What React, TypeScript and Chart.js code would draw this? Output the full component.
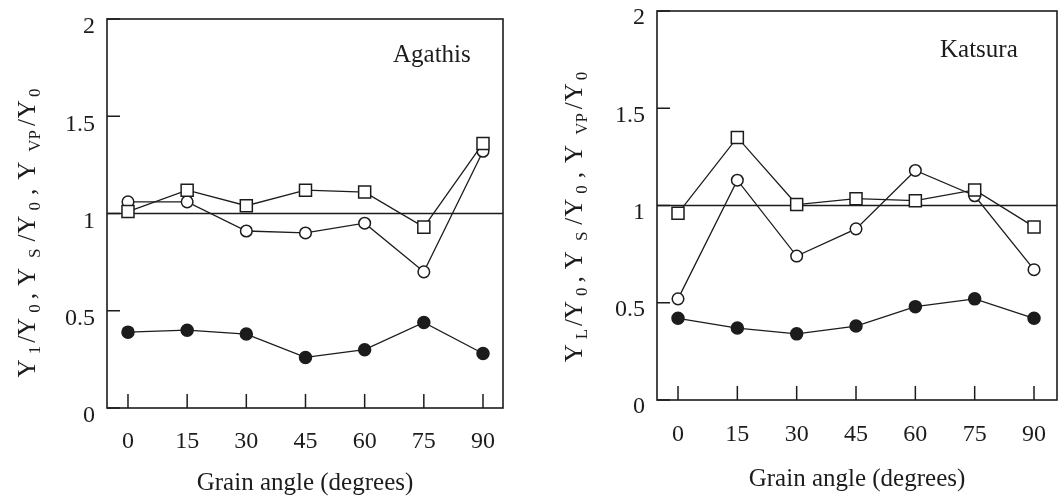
import React, { useEffect, useRef } from "react";
import { Chart, registerables } from "chart.js";

Chart.register(...registerables);

// ---------- data ----------
const GRAIN_ANGLES = [0, 15, 30, 45, 60, 75, 90];
const Y_TICKS = [0, 0.5, 1, 1.5, 2];
const REFERENCE_VALUE = 1;

const AGATHIS_VP = [1.01, 1.12, 1.04, 1.12, 1.11, 0.93, 1.36];
const AGATHIS_S = [1.06, 1.06, 0.91, 0.9, 0.95, 0.7, 1.32];
const AGATHIS_L = [0.39, 0.4, 0.38, 0.26, 0.3, 0.44, 0.28];

const KATSURA_VP = [0.96, 1.35, 1.005, 1.035, 1.025, 1.08, 0.89];
const KATSURA_S = [0.52, 1.13, 0.74, 0.88, 1.18, 1.05, 0.67];
const KATSURA_L = [0.42, 0.37, 0.34, 0.38, 0.48, 0.52, 0.42];

const X_TITLE = "Grain angle (degrees)";

// ---------- style ----------
const SERIF = '"Liberation Serif", "DejaVu Serif", "Times New Roman", serif';
const INK = "#1c1c1c";

type Seg = { t: string; sub: boolean; gap: number };
const yTitleSegs = (first: string): Seg[] => [
  { t: "Y", sub: false, gap: 0 },
  { t: first, sub: true, gap: 5 },
  { t: "/", sub: false, gap: 3 },
  { t: "Y", sub: false, gap: 0 },
  { t: "0", sub: true, gap: 5 },
  { t: ",", sub: false, gap: 5 },
  { t: "Y", sub: false, gap: 7 },
  { t: "S", sub: true, gap: 10 },
  { t: "/", sub: false, gap: 7 },
  { t: "Y", sub: false, gap: 1 },
  { t: "0", sub: true, gap: 5 },
  { t: ",", sub: false, gap: 7 },
  { t: "Y", sub: false, gap: 9 },
  { t: "VP", sub: true, gap: 10 },
  { t: "/", sub: false, gap: 4 },
  { t: "Y", sub: false, gap: 1 },
  { t: "0", sub: true, gap: 3 },
];

type Spec = {
  name: string;
  vp: number[];
  s: number[];
  l: number[];
  titleSegs: Seg[];
  left: number;
  width: number;
  pad: { left: number; right: number; top: number; bottom: number };
  yAxisWidth: number;
  xAxisHeight: number;
  xMin: number;
  xMax: number;
  xTickPad: number;
  xTitlePadBottom: number;
  yLabelOffset: number;
  nameX: number;
  nameY: number;
  yTitleX: number;
  yTitleY: number;
};

const AGATHIS: Spec = {
  name: "Agathis",
  vp: AGATHIS_VP,
  s: AGATHIS_S,
  l: AGATHIS_L,
  titleSegs: yTitleSegs("1"),
  left: 0,
  width: 530,
  pad: { left: 0, right: 27, top: 19, bottom: 0 },
  yAxisWidth: 107,
  xAxisHeight: 90,
  xMin: -5.32,
  xMax: 95.07,
  xTickPad: 19,
  xTitlePadBottom: 0,
  yLabelOffset: 8,
  nameX: 393,
  nameY: 55,
  yTitleX: 28,
  yTitleY: 233,
};

// canvas extends past the page edge so that the plot box reaches x = 1057
const KATSURA: Spec = {
  name: "Katsura",
  vp: KATSURA_VP,
  s: KATSURA_S,
  l: KATSURA_L,
  titleSegs: yTitleSegs("L"),
  left: 530,
  width: 537,
  pad: { left: 0, right: 10, top: 11, bottom: 0 },
  yAxisWidth: 127,
  xAxisHeight: 98,
  xMin: -5.31,
  xMax: 95.81,
  xTickPad: 20,
  xTitlePadBottom: 4,
  yLabelOffset: 7,
  nameX: 940,
  nameY: 50,
  yTitleX: 45,
  yTitleY: 217,
};

const decorPlugin = {
  id: "panelDecor",
  beforeDatasetsDraw(chart: any) {
    const { ctx, chartArea: a, scales } = chart;
    const xs = scales.x;
    const ys = scales.y;
    ctx.save();
    ctx.strokeStyle = INK;
    ctx.lineWidth = 1.6;
    ctx.strokeRect(a.left, a.top, a.right - a.left, a.bottom - a.top);
    const ry = ys.getPixelForValue(REFERENCE_VALUE);
    ctx.lineWidth = 1.4;
    ctx.beginPath();
    ctx.moveTo(a.left, ry);
    ctx.lineTo(a.right, ry);
    ctx.stroke();
    ctx.lineWidth = 1.5;
    ctx.beginPath();
    for (const t of ys.ticks) {
      const py = ys.getPixelForValue(t.value);
      ctx.moveTo(a.left, py);
      ctx.lineTo(a.left + 13, py);
    }
    for (const t of xs.ticks) {
      const px = xs.getPixelForValue(t.value);
      ctx.moveTo(px, a.bottom);
      ctx.lineTo(px, a.bottom - 14);
    }
    ctx.stroke();
    ctx.restore();
  },
  afterDraw(chart: any, _args: any, opts: any) {
    const { ctx } = chart;
    ctx.save();
    ctx.fillStyle = INK;
    ctx.font = `25px ${SERIF}`;
    ctx.textAlign = "left";
    ctx.textBaseline = "middle";
    ctx.fillText(opts.name, opts.nameX, opts.nameY);

    // rotated y-axis title with subscripts
    const segs: Seg[] = opts.titleSegs;
    const mainFont = `25px ${SERIF}`;
    const subFont = `17px ${SERIF}`;
    let total = 0;
    for (const s of segs) {
      ctx.font = s.sub ? subFont : mainFont;
      total += s.gap + ctx.measureText(s.t).width;
    }
    ctx.translate(opts.yTitleX, opts.yTitleY);
    ctx.rotate(-Math.PI / 2);
    ctx.textBaseline = "alphabetic";
    let x = -total / 2;
    for (const s of segs) {
      ctx.font = s.sub ? subFont : mainFont;
      x += s.gap;
      ctx.fillText(s.t, x, s.sub ? 12 : 7);
      x += ctx.measureText(s.t).width;
    }
    ctx.restore();
  },
};

const toPoints = (vals: number[]) => GRAIN_ANGLES.map((a, i) => ({ x: a, y: vals[i] }));

function Panel({ spec }: { spec: Spec }) {
  const ref = useRef<HTMLCanvasElement | null>(null);
  useEffect(() => {
    if (!ref.current) return;
    const lineBase = {
      borderColor: INK,
      borderWidth: 1.3,
      pointBorderColor: INK,
      pointBorderWidth: 1.5,
      fill: false,
      tension: 0,
    };
    const chart = new Chart(ref.current, {
      type: "line",
      data: {
        datasets: [
          {
            ...lineBase,
            label: "VP",
            data: toPoints(spec.vp),
            pointStyle: "rect",
            pointRadius: 8.5,
            pointBackgroundColor: "#ffffff",
          },
          {
            ...lineBase,
            label: "S",
            data: toPoints(spec.s),
            pointStyle: "circle",
            pointRadius: 5.8,
            pointBackgroundColor: "#ffffff",
          },
          {
            ...lineBase,
            label: "L",
            data: toPoints(spec.l),
            pointStyle: "circle",
            pointRadius: 6,
            pointBackgroundColor: INK,
          },
        ],
      } as any,
      options: {
        responsive: false,
        animation: false,
        events: [],
        devicePixelRatio: 1,
        layout: { padding: spec.pad },
        plugins: {
          legend: { display: false },
          tooltip: { enabled: false },
          panelDecor: {
            name: spec.name,
            nameX: spec.nameX - spec.left,
            nameY: spec.nameY,
            titleSegs: spec.titleSegs,
            yTitleX: spec.yTitleX,
            yTitleY: spec.yTitleY,
          },
        } as any,
        scales: {
          x: {
            type: "linear",
            min: spec.xMin,
            max: spec.xMax,
            afterBuildTicks: (s: any) => {
              s.ticks = GRAIN_ANGLES.map((v) => ({ value: v }));
            },
            afterFit: (s: any) => {
              s.height = spec.xAxisHeight;
              s.paddingLeft = 0;
              s.paddingRight = 0;
            },
            grid: { display: false, drawTicks: false },
            border: { display: false },
            ticks: {
              autoSkip: false,
              maxRotation: 0,
              padding: spec.xTickPad,
              color: INK,
              font: { family: SERIF, size: 24 },
              callback: (v: any) => String(v),
            },
            title: {
              display: true,
              text: X_TITLE,
              color: INK,
              font: { family: SERIF, size: 25 },
              padding: { top: 0, bottom: spec.xTitlePadBottom },
            },
          },
          y: {
            type: "linear",
            min: 0,
            max: 2,
            afterBuildTicks: (s: any) => {
              s.ticks = Y_TICKS.map((v) => ({ value: v }));
            },
            afterFit: (s: any) => {
              s.width = spec.yAxisWidth;
              s.paddingTop = 0;
              s.paddingBottom = 0;
            },
            grid: { display: false, drawTicks: false },
            border: { display: false },
            ticks: {
              padding: 12,
              labelOffset: spec.yLabelOffset,
              color: INK,
              font: { family: SERIF, size: 24 },
              callback: (v: any) => String(v),
            },
          },
        } as any,
      },
      plugins: [decorPlugin as any],
    });
    return () => chart.destroy();
  }, [spec]);
  return (
    <canvas
      ref={ref}
      width={spec.width}
      height={498}
      style={{ position: "absolute", left: spec.left, top: 0, width: spec.width, height: 498 }}
    />
  );
}

export default function App() {
  return (
    <div
      style={{
        position: "fixed",
        left: 0,
        top: 0,
        width: 1059,
        height: 498,
        background: "#ffffff",
        overflow: "hidden",
      }}
    >
      <Panel spec={AGATHIS} />
      <Panel spec={KATSURA} />
    </div>
  );
}
